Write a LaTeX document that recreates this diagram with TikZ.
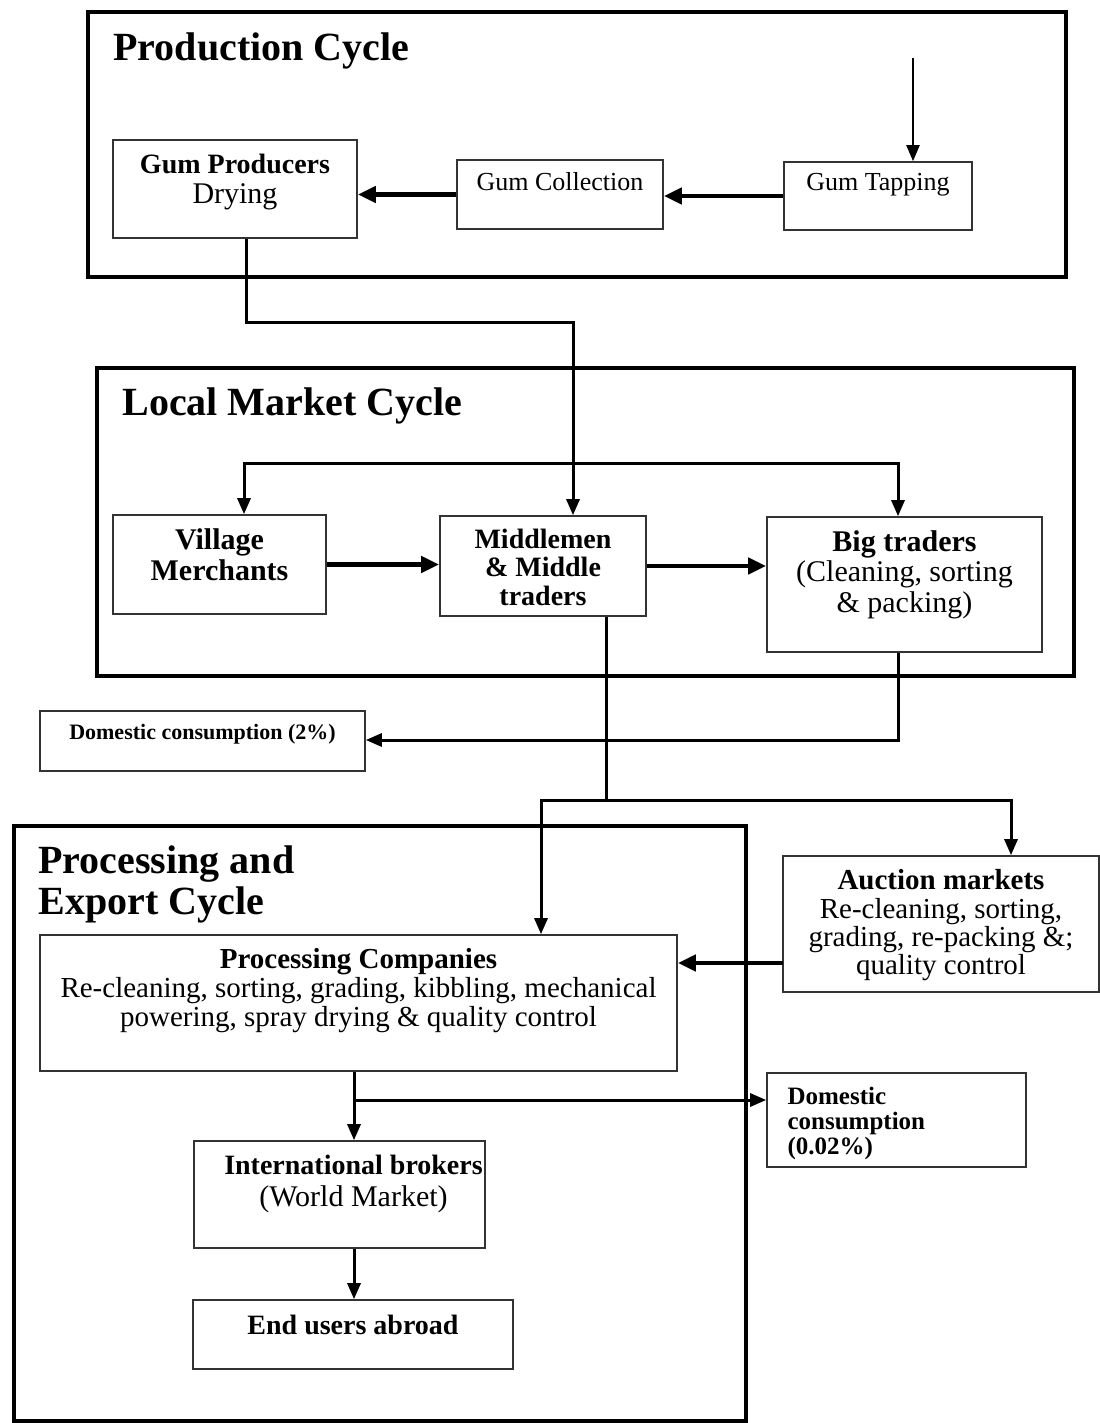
\documentclass[tikz,border=0pt]{standalone}
\usepackage{fontspec}
\setmainfont{Liberation Serif}
\usetikzlibrary{arrows.meta,positioning,fit}

\tikzset{
  frame/.style={draw,line width=2.3pt,inner sep=0pt},
  box/.style={draw=black!80,line width=0.8pt,inner sep=0pt},
  title/.style={font=\fontsize{20}{21}\selectfont\bfseries,anchor=north west,inner sep=0pt,align=left},
  txt/.style={inner sep=0pt,align=center},
  link/.style={line width=1.5pt},
  arr/.style={line width=1.5pt,->},
  bigarr/.style={line width=2.3pt,-{Triangle[length=9pt,width=8pt]}},
}

\begin{document}
\begin{tikzpicture}[x=0.5pt,y=-0.5pt,>={Triangle[length=8pt,width=6.5pt]}]
  \useasboundingbox (0,0) rectangle (1099,1423);

  % the three cycles
  \node[frame,fit={(88,12)(1066,277)}] (prodcyc) {};
  \node[frame,fit={(97,368)(1074,676)}] (localcyc) {};
  \node[frame,fit={(14,826)(746,1421)}] (proccyc) {};
  \node[title] (prodtitle) at (113,32) {Production Cycle};
  \node[title] (localtitle) at (122,387) {Local Market Cycle};
  \node[title] (proctitle) at (38,845) {Processing and\\[-0.5pt]Export Cycle};

  % production
  \node[box,fit={(113,140)(357,238)}] (gp) {};
  \node[box,fit={(457,160)(663,229)}] (coll) {};
  \node[box,fit={(784,162)(972,230)}] (tap) {};
  \node[txt,below=7pt of gp.north,font=\fontsize{14}{15}\selectfont] (gp-t)
    {\textbf{Gum Producers}\\{\fontsize{15}{15}\selectfont Drying}};
  \node[txt,below=6.5pt of coll.north,font=\fontsize{13}{14}\selectfont] (coll-t) {Gum Collection};
  \node[txt,below=6pt of tap.north,font=\fontsize{13}{14}\selectfont] (tap-t) {Gum Tapping};

  % local market
  \node[box,fit={(113,515)(326,614)}] (vm) {};
  \node[box,fit={(440,516)(646,616)}] (mid) {};
  \node[box,fit={(767,517)(1042,652)}] (bt) {};
  \node[box,fit={(40,711)(365,771)}] (dom1) {};
  \node[txt,below=7pt of vm.north,font=\fontsize{15}{15.5}\selectfont\bfseries] (vm-t) {Village\\Merchants};
  \node[txt,below=6.5pt of mid.north,font=\fontsize{14}{14.3}\selectfont\bfseries] (mid-t) {Middlemen\\\& Middle\\traders};
  \node[txt,below=7pt of bt.north,font=\fontsize{15}{15.2}\selectfont] (bt-t)
    {\textbf{Big traders}\\(Cleaning, sorting\\\& packing)};
  \node[txt,below=7pt of dom1.north,font=\fontsize{11}{12}\selectfont\bfseries] (dom1-t) {Domestic consumption (2\%)};

  % processing and export
  \node[box,fit={(40,935)(677,1071)}] (pc) {};
  \node[box,fit={(783,856)(1099,992)}] (am) {};
  \node[box,fit={(767,1073)(1026,1167)}] (dom2) {};
  \node[box,fit={(194,1141)(485,1248)}] (ib) {};
  \node[box,fit={(193,1300)(513,1369)}] (eu) {};
  \node[txt,below=7pt of pc.north,font=\fontsize{14.5}{14.5}\selectfont] (pc-t)
    {\textbf{Processing Companies}\\Re-cleaning, sorting, grading, kibbling, mechanical\\powering, spray drying \& quality control};
  \node[txt,below=7pt of am.north,font=\fontsize{14.5}{14.2}\selectfont] (am-t)
    {\textbf{Auction markets}\\Re-cleaning, sorting,\\grading, re-packing \&;\\quality control};
  \node[txt,align=left,below right=7.5pt and 10.5pt of dom2.north west,font=\fontsize{12.5}{12.5}\selectfont\bfseries] (dom2-t)
    {Domestic\\consumption\\(0.02\%)};
  \node[txt,below=7pt of ib.north,xshift=7pt,font=\fontsize{14}{16}\selectfont] (ib-t)
    {\textbf{International brokers}\\{\fontsize{15}{16}\selectfont(World Market)}};
  \node[txt,below=7.5pt of eu.north,font=\fontsize{14}{15}\selectfont\bfseries] (eu-t) {End users abroad};

  % junction points
  \coordinate (tapin) at (913,58);
  \coordinate (j1) at (246,322);
  \coordinate (j2) at (573,322);
  \coordinate (busL) at (244,463);
  \coordinate (busR) at (898,463);
  \coordinate (btdown) at (898,740);
  \coordinate (split) at (606,800);
  \coordinate (pcx) at (541,800);
  \coordinate (amx) at (1011,800);
  \coordinate (aml) at (783,963);
  \coordinate (ex) at (354,1100);

  % connectors
  \draw[arr,line width=1.1pt] (tapin) -- (tapin |- tap.north);
  \draw[bigarr] (tap.west) -- (tap.west -| coll.east);
  \draw[bigarr] (coll.west) -- (coll.west -| gp.east);
  \draw[arr] (gp.south -| j1) -- (j1) -- (j2) -- (j2 |- mid.north);
  \draw[link,<->] (busL |- vm.north) -- (busL) -- (busR) -- (busR |- bt.north);
  \draw[bigarr] (vm.east) -- (vm.east -| mid.west);
  \draw[bigarr] (mid.east) -- (mid.east -| bt.west);
  \draw[arr] (btdown |- bt.south) -- (btdown) -- (btdown -| dom1.east);
  \draw[link] (split |- mid.south) -- (split);
  \draw[arr] (split) -- (pcx) -- (pcx |- pc.north);
  \draw[arr] (split) -- (amx) -- (amx |- am.north);
  \draw[bigarr] (aml) -- (aml -| pc.east);
  \draw[arr] (ex |- pc.south) -- (ex |- ib.north);
  \draw[arr] (ex) -- (ex -| dom2.west);
  \draw[arr] (ex |- ib.south) -- (ex |- eu.north);
\end{tikzpicture}
\end{document}
